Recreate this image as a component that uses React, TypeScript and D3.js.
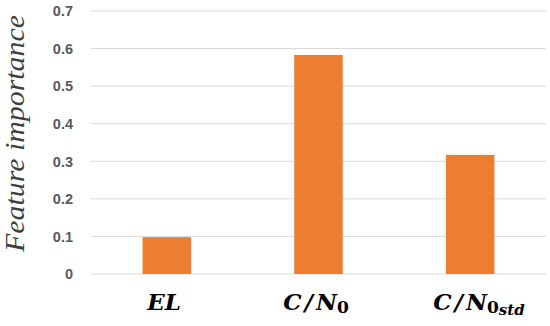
import React from "react";
import * as d3 from "d3";

const categories = ["EL", "C/N0", "C/N0std"];
const values = [0.098, 0.583, 0.317];
const yTicks = [0, 0.1, 0.2, 0.3, 0.4, 0.5, 0.6, 0.7];

const W = 550, H = 326;
const left = 91, right = 546, top = 11, bottom = 274;

export default function App() {
  const x = d3.scaleBand<string>().domain(categories).range([left, right]).paddingInner(0.68).paddingOuter(0.34);
  const y = d3.scaleLinear().domain([0, 0.7]).range([bottom, top]);
  const serif = "'Liberation Serif', 'DejaVu Serif', serif";
  const mathFont = "'DejaVu Serif', serif";
  const labelFor = (c: string) => {
    if (c === "EL") return <tspan>EL</tspan>;
    if (c === "C/N0") return (<><tspan>C</tspan><tspan dx={3}>/</tspan><tspan dx={3}>N</tspan><tspan dy={3} fontStyle="normal" fontSize={17}>0</tspan></>);
    return (<><tspan>C</tspan><tspan dx={3}>/</tspan><tspan dx={3}>N</tspan><tspan dy={3} fontStyle="normal" fontSize={17}>0</tspan><tspan dy={2} fontSize={15}>std</tspan></>);
  };
  const centers: Record<string, number> = { "EL": 164, "C/N0": 316, "C/N0std": 479 };
  return (
    <svg width={W} height={H} style={{ position: "absolute", left: 0, top: 0, background: "#fff" }}>
      {yTicks.map((t) => (
        <g key={t}>
          <line x1={left} x2={right} y1={y(t)} y2={y(t)} stroke="#d9d9d9" strokeWidth={1} />
          <text x={73} y={y(t)} dy="0.36em" textAnchor="end" fontFamily="'Liberation Sans', Arial, sans-serif" fontWeight="bold" fontSize={14.5} fill="#595959">{t === 0 ? "0" : d3.format(".1f")(t)}</text>
        </g>
      ))}
      {categories.map((c, i) => (
        <rect key={c} x={x(c)} y={y(values[i])} width={x.bandwidth()} height={bottom - y(values[i])} fill="#ED7D31" />
      ))}
      {categories.map((c) => (
        <text key={c} x={centers[c]} y={310} textAnchor="middle" fontFamily={mathFont} fontWeight="bold" fontStyle="italic" fontSize={23} fill="#000">{labelFor(c)}</text>
      ))}
      <text transform={`translate(24,133.5) rotate(-90)`} textAnchor="middle" fontFamily={serif} fontStyle="italic" fontSize={27} textLength={237} lengthAdjust="spacingAndGlyphs" fill="#404040">Feature importance</text>
    </svg>
  );
}
